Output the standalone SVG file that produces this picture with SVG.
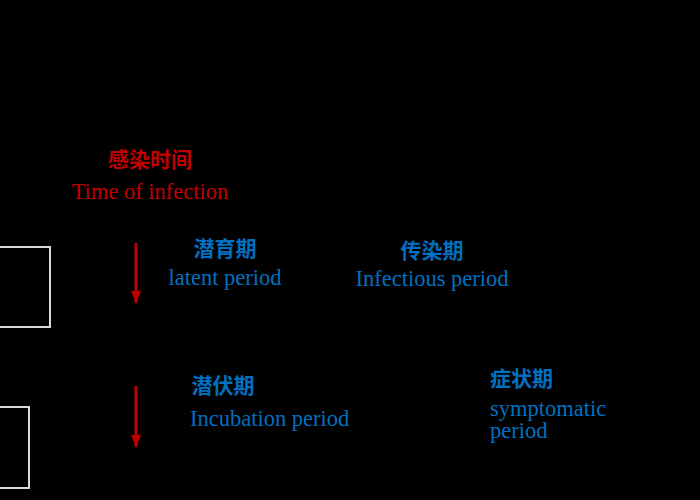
<svg xmlns="http://www.w3.org/2000/svg" width="700" height="500" viewBox="0 0 700 500">
<defs>
<style>
.cn{font-family:"Noto Sans CJK SC",sans-serif;font-size:21px;font-weight:bold}
.en{font-family:"Liberation Serif",serif;font-size:22.5px}
.red{fill:#C00000}.blue{fill:#0070C0}
.box{fill:none;stroke:#D9D9D9;stroke-width:2}
</style>
<marker id="ah" markerWidth="12" markerHeight="10" refX="12" refY="5" orient="auto" markerUnits="userSpaceOnUse" viewBox="0 0 12 10"><path d="M0,0L12,5L0,10Z" fill="#C00000"/></marker>
</defs>
<rect width="700" height="500" fill="#000"/>
<g id="box1"><path class="box" d="M-2,247H50V327H-2"/></g>
<g id="box2"><path class="box" d="M-2,407H29V488H-2"/></g>
<g id="connectors">
<line x1="136" y1="243" x2="136" y2="303" stroke="#C00000" stroke-width="3" marker-end="url(#ah)"/>
<line x1="136" y1="386" x2="136" y2="447" stroke="#C00000" stroke-width="3" marker-end="url(#ah)"/>
</g>
<g id="infection"><text class="cn red" x="150" y="167" text-anchor="middle" font-weight="normal">感染时间</text>
<text class="en red" x="150" y="199" text-anchor="middle">Time of infection</text></g>
<g id="latent"><text class="cn blue" x="225" y="256" text-anchor="middle">潜育期</text>
<text class="en blue" x="225" y="285" text-anchor="middle">latent period</text></g>
<g id="infectious"><text class="cn blue" x="432" y="258" text-anchor="middle">传染期</text>
<text class="en blue" x="432" y="286" text-anchor="middle">Infectious period</text></g>
<g id="incubation"><text class="cn blue" x="223" y="393" text-anchor="middle">潜伏期</text>
<text class="en blue" x="190" y="426">Incubation period</text></g>
<g id="symptomatic"><text class="cn blue" x="490" y="386">症状期</text>
<text class="en blue" x="490" y="416">symptomatic</text>
<text class="en blue" x="490" y="438">period</text></g>
</svg>
